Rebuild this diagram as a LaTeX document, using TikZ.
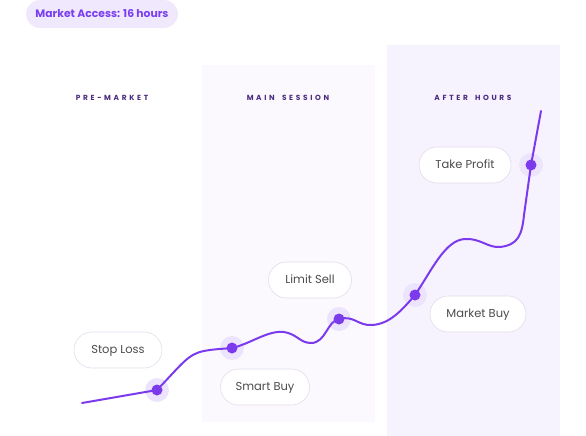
\documentclass[tikz,border=0pt]{standalone}
\usepackage{fontspec}
\setmainfont{Poppins}
\newfontfamily\hdrfont[LetterSpace=36]{Poppins}
\definecolor{lineP}{HTML}{7C3AED}
\definecolor{haloP}{HTML}{ECE4FD}
\definecolor{badgeBg}{HTML}{F0E9FD}
\definecolor{badgeTx}{HTML}{7B3FF0}
\definecolor{panelA}{HTML}{FBF9FE}
\definecolor{panelB}{HTML}{F7F3FE}
\definecolor{hdrTx}{HTML}{4A2A7E}
\definecolor{pillBd}{HTML}{E3DCEB}
\definecolor{pillTx}{HTML}{4C4C4C}
\tikzset{
  pill/.style={draw=pillBd, line width=0.6pt, fill=white, rounded corners=18pt,
    minimum height=36pt, inner sep=0pt, text=pillTx, text height=8.5pt, text depth=1.5pt,
    font=\fontsize{11.5}{13}\selectfont},
  hdr/.style={text=hdrTx, font=\hdrfont\bfseries\fontsize{7.4}{8}\selectfont, inner sep=0pt},
  halo/.style={fill=haloP, draw=none},
  dotP/.style={fill=lineP, draw=none},
}
\begin{document}
\begin{tikzpicture}[x=1pt,y=-1pt]
\useasboundingbox (0,0) rectangle (586,436);
% panels
\fill[panelA] (202,65) rectangle (375,422);
\fill[panelB] (387,45) rectangle (560,436);
% badge
\node[fill=badgeBg, rounded corners=14pt, minimum width=152pt, minimum height=28pt, inner sep=0pt,
  text=badgeTx, font=\bfseries\fontsize{10.8}{12}\selectfont] (badge) at (102,14) {Market Access: 16 hours};
% headers
\node[hdr] (h1) at (112,98) {PRE-MARKET};
\node[hdr] (h2) at (288,98) {MAIN\hspace{3pt} SESSION};
\node[hdr] (h3) at (473,98) {AFTER\hspace{3pt} HOURS};
% coordinates
\coordinate (p0) at (82,403);
\coordinate (d1) at (157,390);
\coordinate (d2) at (232,348);
\coordinate (d3) at (339,319);
\coordinate (d4) at (415,295);
\coordinate (d5) at (531,165);
\coordinate (p9) at (541,111);
% halos
\foreach \d in {d1,d2,d3,d4,d5} \fill[halo] (\d) circle (12pt);
% curve
\draw[lineP, line width=2pt, line join=round, line cap=round]
  (p0) -- (d1)
  .. controls (182,364) and (188,354) .. (204,351)
  .. controls (214,349) and (222,349) .. (d2)
  .. controls (250,344) and (268,330) .. (284,332)
  .. controls (297,334) and (300,343) .. (311,343)
  .. controls (326,343) and (327,321) .. (d3)
  .. controls (354,315) and (358,326) .. (372,325)
  .. controls (390,324) and (402,310) .. (d4)
  .. controls (432,270) and (445,240) .. (465,239)
  .. controls (480,238) and (488,248) .. (500,247)
  .. controls (518,245) and (522,235) .. (524,215)
  -- (d5) -- (p9);
\foreach \d in {d1,d2,d3,d4,d5} \fill[dotP] (\d) circle (5.5pt);
% pills
\node[pill, minimum width=88pt] (stop) at (118,350) {Stop Loss};
\node[pill, minimum width=89pt] (smart) at (265,387) {Smart Buy};
\node[pill, minimum width=83pt] (limit) at (310,280) {Limit Sell};
\node[pill, minimum width=92pt] (take) at (465,165) {Take Profit};
\node[pill, minimum width=96pt] (mkt) at (478,314) {Market Buy};
\end{tikzpicture}
\end{document}
